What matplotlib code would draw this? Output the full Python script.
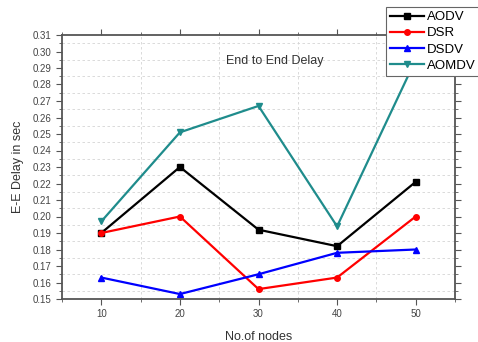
import matplotlib.pyplot as plt
from matplotlib.ticker import MultipleLocator, FormatStrFormatter

plt.rcParams['font.family'] = ['Liberation Sans', 'DejaVu Sans']

nodes = [10, 20, 30, 40, 50]
aodv = [0.190, 0.230, 0.192, 0.182, 0.221]
dsr = [0.190, 0.200, 0.156, 0.163, 0.200]
dsdv = [0.163, 0.153, 0.165, 0.178, 0.180]
aomdv = [0.197, 0.251, 0.267, 0.194, 0.295]

fig = plt.figure(figsize=(4.78, 3.42), dpi=100)
ax = fig.add_axes([62 / 478, 1 - 299 / 342, (455 - 62) / 478, (299 - 35) / 342])

ax.plot(nodes, aodv, color='black', marker='s', ms=4, lw=1.6, label='AODV')
ax.plot(nodes, dsr, color='red', marker='o', ms=4, lw=1.6, label='DSR')
ax.plot(nodes, dsdv, color='blue', marker='^', ms=4.5, lw=1.6, label='DSDV')
ax.plot(nodes, aomdv, color='#1f8c8c', marker='v', ms=4.5, lw=1.6, label='AOMDV')

ax.set_xlim(5, 55)
ax.set_ylim(0.15, 0.31)
ax.xaxis.set_major_locator(MultipleLocator(10))
ax.xaxis.set_minor_locator(MultipleLocator(5))
ax.yaxis.set_major_locator(MultipleLocator(0.01))
ax.yaxis.set_minor_locator(MultipleLocator(0.005))
ax.yaxis.set_major_formatter(FormatStrFormatter('%.2f'))
ax.grid(which='minor', color='#d4d4d4', ls=(0, (3, 3)), lw=0.6)
ax.grid(which='major', visible=False)

for s in ax.spines.values():
    s.set_color('#555555')
    s.set_linewidth(1.3)
ax.tick_params(which='both', direction='out', colors='#555555', labelcolor='#444444',
               labelsize=7, top=True, right=True)
ax.tick_params(which='major', length=4)
ax.tick_params(which='minor', length=2)

ax.set_xlabel('No.of nodes', fontsize=9, color='#333333', labelpad=8)
ax.set_ylabel('E-E Delay in sec', fontsize=9, color='#333333', labelpad=6)
ax.text(32.1, 0.294, 'End to End Delay', fontsize=9, color='#333333',
        ha='center', va='center')

leg = fig.legend(loc='upper left', bbox_to_anchor=(386 / 478, 1 - 7 / 342),
                 fontsize=9.5, frameon=True, fancybox=False, handlelength=2.6,
                 handletextpad=0.2, borderpad=0.3, labelspacing=0.3,
                 borderaxespad=0)
leg.get_frame().set_edgecolor('#666666')
leg.get_frame().set_linewidth(0.8)
leg.get_frame().set_alpha(1)

fig.savefig('out.png', dpi=100)
